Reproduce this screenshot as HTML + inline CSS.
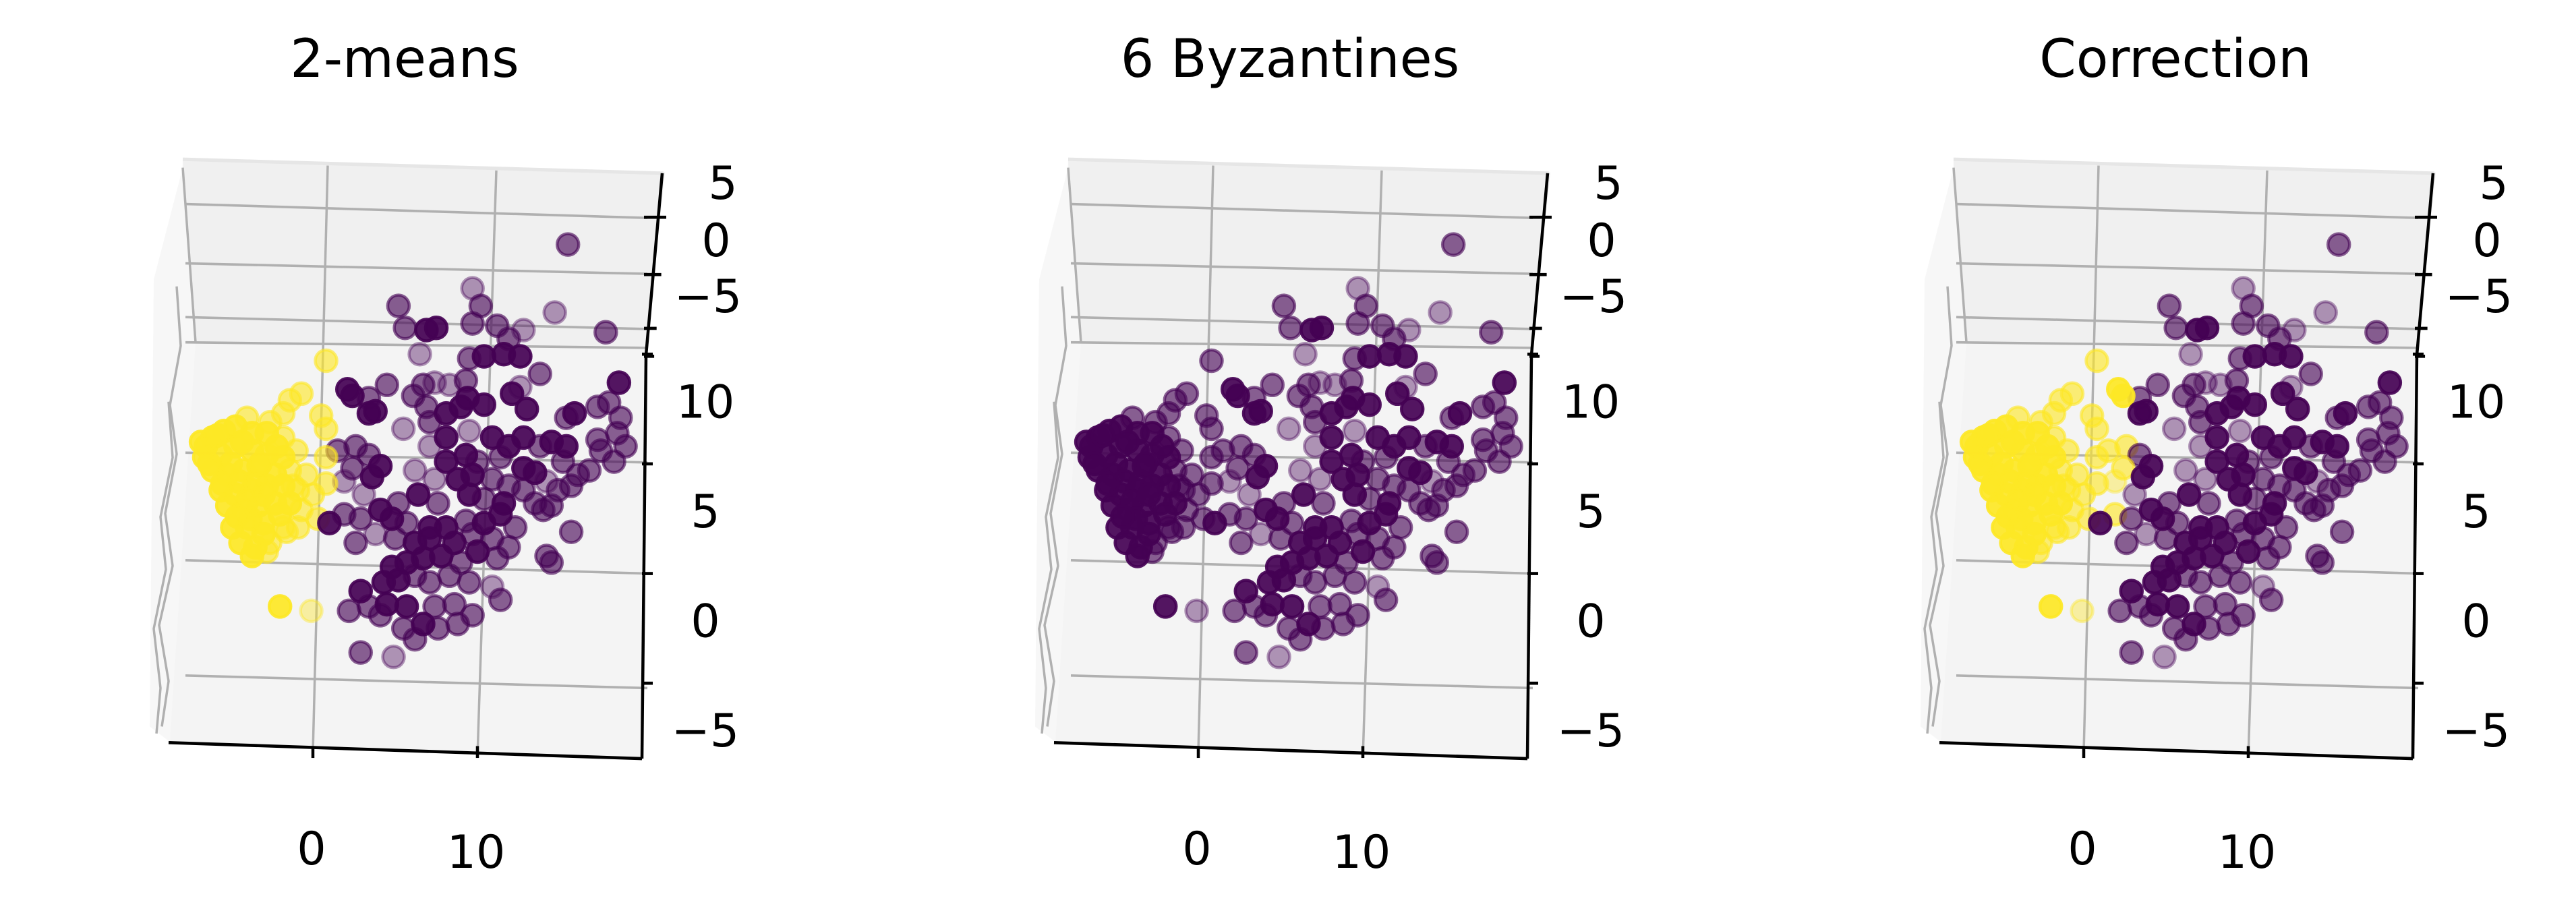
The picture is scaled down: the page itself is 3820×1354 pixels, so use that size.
<!DOCTYPE html>
<html><head><meta charset="utf-8">
<style>
html,body{margin:0;padding:0;background:#fff;}
svg{display:block;}
text{font-family:"DejaVu Sans","Liberation Sans",sans-serif;fill:#000;}
</style></head>
<body>
<svg id="fig" width="3820" height="1354" viewBox="0 0 3820 1354" xmlns="http://www.w3.org/2000/svg">
<rect width="3820" height="1354" fill="#fff"/>
</svg>
<script>
// ---- data (projected plot units: u = horizontal axis, v = vertical axis) ----
const purpleU = [15.5,9.7,10.2,5.2,14.7,17.8,5.6,6.9,7.5,9.7,11.2,12.8,11.9,6.5,9.5,10.4,11.6,12.6,13.8,18.6,2.1,2.4,3.4,4.5,6.1,6.7,7.4,8.3,9.3,9.4,12.1,12.6,3.4,3.8,6.9,8.1,9.0,10.4,13.0,15.4,15.9,17.3,18.0,18.7,18.5,17.3,19.0,17.5,18.3,5.5,7.1,8.1,9.5,10.9,11.9,12.8,13.8,14.5,15.4,1.5,2.6,3.4,4.1,2.4,3.6,7.1,8.1,9.3,10.0,11.4,12.8,13.5,15.2,16.1,16.8,1.9,6.2,7.4,8.8,9.7,10.9,11.9,12.8,14.2,14.9,15.7,3.1,6.4,5.2,7.6,9.5,10.4,11.6,13.5,14.5,1.0,1.9,2.9,4.1,4.8,5.7,7.1,8.1,9.3,10.4,11.4,12.3,14.0,15.7,2.6,3.8,5.0,6.2,7.1,8.6,9.7,10.9,11.9,14.2,14.5,4.8,5.7,6.7,7.8,9.0,10.0,11.2,2.9,4.3,5.2,6.2,7.1,8.3,9.5,10.9,2.2,3.4,4.5,5.7,7.4,8.6,9.7,11.4,5.5,6.7,7.6,8.8,2.9,4.9,6.2,4.1];
const purpleV = [15.0,13.0,12.2,12.2,11.9,11.0,11.2,11.1,11.2,11.4,11.3,11.1,10.7,10.0,9.8,9.9,10.0,9.9,9.1,8.7,8.4,8.1,8.0,8.6,8.1,8.6,8.7,8.6,8.8,8.0,8.2,8.5,7.3,7.4,7.6,7.3,7.6,7.7,7.5,7.1,7.3,7.6,7.8,7.1,6.4,6.1,5.8,5.6,5.1,6.6,6.9,6.2,6.5,6.2,5.8,6.2,5.8,6.0,5.8,5.6,5.8,5.4,4.9,4.8,4.4,5.8,5.1,5.4,5.1,5.3,4.8,4.6,5.1,4.5,4.7,4.2,4.7,4.3,4.3,4.5,4.3,4.0,3.8,4.2,3.8,4.0,3.6,3.6,3.2,3.2,3.6,3.4,3.2,3.2,3.1,2.3,2.7,2.5,2.9,2.5,2.3,2.1,2.1,2.4,2.3,2.7,2.1,2.9,1.9,1.4,1.8,1.6,1.4,1.6,1.4,1.8,1.6,1.2,0.8,0.5,0.3,0.5,0.7,0.8,0.5,1.0,0.7,-0.8,-0.4,-0.3,-0.1,-0.4,-0.1,-0.4,-0.6,-1.7,-1.5,-1.4,-1.5,-1.5,-1.4,-1.9,-1.2,-2.5,-2.3,-2.5,-2.3,-3.6,-3.8,-3.0,-1.9];
// depth shade: 0 = near (opaque), 1 = mid, 2 = far (faint)
const purpleShade = [1,2,1,1,2,1,1,0,0,1,1,2,1,2,1,0,0,0,1,0,0,0,1,1,1,1,2,2,1,0,0,2,0,0,1,0,0,0,0,1,0,1,1,1,1,1,1,1,1,2,1,0,2,0,0,0,1,0,0,1,1,1,0,1,0,2,0,0,1,1,0,0,1,1,1,2,2,2,0,0,1,1,1,2,1,1,2,0,1,1,0,1,0,1,1,0,1,1,0,0,1,0,0,1,0,0,1,1,1,1,2,1,0,0,0,1,1,1,1,1,0,0,0,0,1,0,1,0,0,0,1,1,1,1,2,1,1,0,0,1,1,1,1,1,0,1,1,1,2,1,1,0];
const yellowU = [0.8,-0.7,-1.4,-4.0,-2.6,-1.8,0.8,-6.8,-6.1,-5.4,-4.7,-3.7,-2.8,-1.8,-6.6,-5.6,-4.7,-3.7,-2.8,-1.8,0.8,-6.1,-5.2,-4.2,-3.3,-2.3,-1.4,-0.4,0.8,-5.6,-4.7,-3.7,-2.8,-1.8,-0.9,0.0,-5.2,-4.2,-3.3,-2.3,-1.4,-0.7,0.3,-4.9,-4.0,-3.0,-1.8,-0.9,-4.4,-3.5,-2.6,-1.6,-3.7,-2.8,-2.0,-0.1,-6.5,-5.0,-4.5,-3.5,-4.0,-3.0,-2.0,-3.8,-6.3,-5.8,-4.3,-3.2,-2.2,-3.0,-4.6,-5.5,-1.2,-1.0,0.5];
const yellowV = [9.7,8.2,7.9,7.1,6.9,7.3,6.6,6.0,6.2,6.5,6.7,6.4,6.4,6.2,5.3,5.4,5.8,5.6,5.4,5.3,5.3,4.7,4.5,4.7,4.9,4.5,4.7,4.5,4.1,3.8,3.6,3.8,4.0,4.0,3.8,3.6,3.1,2.9,3.1,3.2,3.2,2.9,2.5,2.1,2.1,2.3,2.1,2.1,1.4,1.2,1.4,1.9,0.8,1.0,-1.5,-1.7,5.8,5.0,4.2,4.2,3.3,3.6,2.7,2.5,5.0,6.3,6.0,5.0,5.8,1.8,2.6,4.1,4.0,5.6,7.2];
const yellowShade = [1,1,1,1,1,1,1,0,0,0,0,0,0,1,0,0,0,0,0,0,1,0,0,0,0,0,1,1,1,0,0,0,0,0,1,1,0,0,0,0,0,1,1,0,0,0,1,1,0,0,1,1,0,1,0,2,0,0,0,0,0,0,0,0,0,0,0,0,0,0,0,0,1,1,1];
// purple points that the "Correction" panel reassigns to the yellow cluster
const correctedIdx = [20,21,59,60,63,75,96];
const panelTitles = ["2-means","6 Byzantines","Correction"];
const zUpperTicks = ["5","0","\u22125"];
const zLowerTicks = ["10","5","0","\u22125"];
const xTicks = ["0","10"];
const xTickVals = [0,10];
const vTickVals = [10,5,0,-5];

// ---- axis functions ----
const YS = 1.036;
const sx = u => 464 + 24.4*u;
const sy = v => YS*(821 - 31.4*v);
const PURPLE = "#440154", YELLOW = "#fde725";
const ALPHA = [0.92,0.62,0.4];
const NS = "http://www.w3.org/2000/svg";
const fig = document.getElementById('fig');
function mk(tag, attrs, parent){
  const e = document.createElementNS(NS, tag);
  for (const k in attrs) e.setAttribute(k, attrs[k]);
  parent.appendChild(e);
  return e;
}
const offsets = [0,1313,2626];

offsets.forEach((ox, pi) => {
  const g = mk('g', {transform:`translate(${ox},0)`}, fig);
  
  

  const t = mk('text', {x:600, y:114, 'font-size':78, 'text-anchor':'middle'}, g);
  t.textContent = panelTitles[pi];
  
  

  const geo = mk('g', {transform:`matrix(1,0,0,${YS},0,0)`}, g);
  const pane = mk('polygon', {points:'271,227 986,247 958,508 952,1086 252,1062', fill:'#f4f4f4'}, geo);
  
  
  const upper = mk('polygon', {points:'271,227 986,247 958,500 290,490', fill:'#f0f0f0'}, geo);
  
  
  mk('polygon', {points:'228,400 271,240 290,490 252,1062 222,1040', fill:'#f7f7f7'}, geo);
  mk('line', {x1:271,y1:228,x2:984,y2:248,stroke:'#e6e6e6','stroke-width':5}, geo);

  const grid = mk('g', {stroke:'#b0b0b0','stroke-width':3.5,fill:'none'}, geo);
  
  
  [[292,312],[377,392],[454,471],[490,498],[648,662],[802,821],[967,985]].forEach(([a,b]) => {
    mk('line', {x1:275,y1:a,x2:960,y2:b}, grid);
  });
  mk('line', {x1:486,y1:237,x2:464,y2:1076}, grid);
  mk('line', {x1:736,y1:244,x2:708,y2:1084}, grid);
  mk('polyline', {points:'271,240 290,490'}, grid);
  mk('polyline', {points:'262,410 268,495 252,580 262,650 245,735 256,810 236,895 250,975 240,1040'}, grid);
  mk('polyline', {points:'250,575 256,655 238,740 246,815 228,900 238,985 232,1050'}, grid);

  const ax = mk('g', {stroke:'#000','stroke-width':4.5,fill:'none'}, geo);
  
  
  mk('line', {x1:250,y1:1063,x2:952,y2:1086}, ax);
  mk('line', {x1:958,y1:508,x2:952,y2:1086}, ax);
  mk('line', {x1:982,y1:248,x2:958,y2:508}, ax);
  xTickVals.forEach(xv => mk('line', {x1:sx(xv), y1:1068, x2:sx(xv), y2:1085}, ax));
  [311,393,470,510].forEach(y => mk('line', {x1:955, y1:y, x2:988-(y-311)*0.09, y2:y}, ax));
  vTickVals.forEach(vv => mk('line', {x1:952, y1:sy(vv)/YS, x2:968, y2:sy(vv)/YS}, ax));

  const upperPos = [[1072,295],[1062,380],[1050,463]];
  zUpperTicks.forEach((s,i) => {
    const e = mk('text', {x:upperPos[i][0], y:upperPos[i][1], 'font-size':68, 'text-anchor':'middle'}, g);
    e.textContent = s;
    
    
  });
  vTickVals.forEach((vv,i) => {
    const e = mk('text', {x:1046, y:sy(vv)+94, 'font-size':68, 'text-anchor':'middle'}, g);
    e.textContent = zLowerTicks[i];
    
    
  });
  xTickVals.forEach((xv,i) => {
    const e = mk('text', {x:sx(xv)-2, y:1282+i*5, 'font-size':68, 'text-anchor':'middle'}, g);
    e.textContent = xTicks[i];
    
    
  });

  const pts = [];
  purpleU.forEach((u,i) => {
    let c = PURPLE;
    if (pi === 2 && correctedIdx.includes(i)) c = YELLOW;
    pts.push({u, v:purpleV[i], s:purpleShade[i], c});
  });
  yellowU.forEach((u,i) => {
    pts.push({u, v:yellowV[i], s:yellowShade[i], c: pi === 1 ? PURPLE : YELLOW});
  });
  pts.sort((a,b) => b.s - a.s);
  const pg = mk('g', {}, g);
  
  
  pts.forEach(p => {
    const a = ALPHA[p.s];
    const c = mk('circle', {cx:sx(p.u), cy:sy(p.v), r:16, fill:p.c, 'fill-opacity':a, stroke:p.c, 'stroke-opacity':a, 'stroke-width':4.5}, pg);
    
    
  });
});
</script>
</body></html>
